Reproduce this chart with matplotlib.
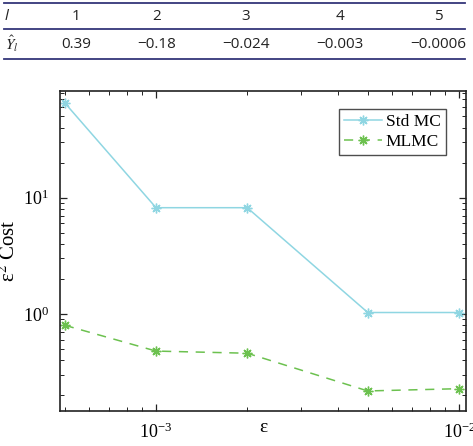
import matplotlib
matplotlib.use("Agg")
import matplotlib.pyplot as plt
from matplotlib.lines import Line2D
from matplotlib.ticker import LogLocator, LogFormatterMathtext, NullFormatter

# Table data
levels = ["1", "2", "3", "4", "5"]
yhat = ["0.39", "\u22120.18", "\u22120.024", "\u22120.003", "\u22120.0006"]

# Plot data
eps = [5e-4, 1e-3, 2e-3, 5e-3, 1e-2]
std_mc = [65.2, 8.2, 8.2, 1.03, 1.03]
mlmc = [0.80, 0.48, 0.46, 0.218, 0.228]

plt.rcParams['font.family'] = ['Liberation Serif', 'DejaVu Serif']
plt.rcParams['mathtext.fontset'] = 'stix'

W, H = 473, 446
fig = plt.figure(figsize=(W / 100, H / 100), dpi=100)

# ---- table ----
navy = "#34367a"
for yy in (3, 29, 59):
    fig.add_artist(Line2D([4 / W, 465 / W], [1 - yy / H, 1 - yy / H],
                          transform=fig.transFigure, color=navy, lw=1.3))
tfont = dict(family=['Open Sans', 'DejaVu Sans'], fontsize=11, color="#222222")
col_x = [76, 157, 246, 340, 438]
fig.text(5 / W, 1 - 16 / H, "l", ha="left", va="center", style="italic", **tfont)
fig.text(5 / W, 1 - 44 / H, "$\\hat{Y}_l$", ha="left", va="center",
         fontsize=11, color="#222222", family=['Open Sans', 'DejaVu Sans'])
for x, lv, v in zip(col_x, levels, yhat):
    fig.text(x / W, 1 - 16 / H, lv, ha="center", va="center", **tfont)
    fig.text(x / W, 1 - 44 / H, v, ha="center", va="center", **tfont)

# ---- plot ----
left, right, top, bottom = 60, 466, 91, 411
ax = fig.add_axes([left / W, 1 - bottom / H, (right - left) / W, (bottom - top) / H])
ax.plot(eps, std_mc, color="#8fd6e2", lw=1.1, marker=(8, 2, 0), ms=7,
        markeredgewidth=1.0, label="Std MC")
ax.plot(eps, mlmc, color="#6cc14f", lw=1.1, ls=(0, (6, 5)), marker=(8, 2, 0), ms=7,
        markeredgewidth=1.0, label="MLMC")
ax.set_xscale("log")
ax.set_yscale("log")
ax.set_xlim(4.82e-4, 1.055e-2)
ax.set_ylim(0.1466, 82.6)

ax.xaxis.set_major_locator(LogLocator(base=10, numticks=10))
ax.xaxis.set_major_formatter(LogFormatterMathtext())
ax.xaxis.set_minor_locator(LogLocator(base=10, subs=range(2, 10), numticks=20))
ax.xaxis.set_minor_formatter(NullFormatter())
ax.yaxis.set_major_locator(LogLocator(base=10, numticks=10))
ax.yaxis.set_major_formatter(LogFormatterMathtext())
ax.yaxis.set_minor_locator(LogLocator(base=10, subs=range(2, 10), numticks=20))
ax.yaxis.set_minor_formatter(NullFormatter())

ax.tick_params(which="both", direction="in", top=True, right=True, color="#222222")
ax.tick_params(which="major", length=5, width=0.9, labelsize=13, pad=8)
ax.tick_params(which="minor", length=3, width=0.7)
for s in ax.spines.values():
    s.set_linewidth(1.2)
    s.set_color("#222222")

ax.set_xlabel("\u03b5", fontsize=14, labelpad=-16)
ax.set_ylabel("\u03b5$^{2}$ Cost", fontsize=15, labelpad=2)

leg = ax.legend(loc="upper right", bbox_to_anchor=(0.95, 0.945), fontsize=12.5,
                frameon=True, fancybox=False, edgecolor="#222222",
                handlelength=2.2, borderpad=0.3, labelspacing=0.2,
                handletextpad=0.2, borderaxespad=0.0)
leg.get_frame().set_linewidth(1.0)

fig.savefig("out.png", dpi=100)
